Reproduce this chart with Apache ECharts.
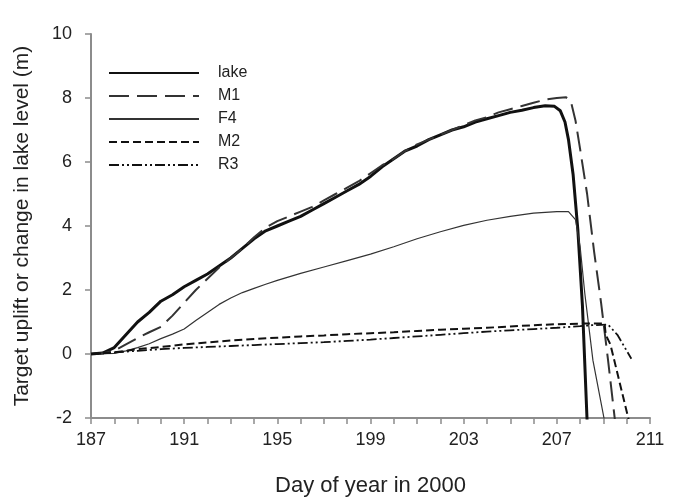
<!DOCTYPE html>
<html>
<head>
<meta charset="utf-8">
<script src="https://cdn.jsdelivr.net/npm/echarts@6/dist/echarts.min.js"></script>
<style>
html, body { margin: 0; padding: 0; background: #fff; }
#main { width: 675px; height: 502px; }
</style>
</head>
<body>
<div id="main"></div>
<script>
// day of year, value (m)
var dayStart = 187
var xTicks = [187, 191, 195, 199, 203, 207, 211]

var lake = [
  [187, 0], [187.5, 0.03], [188, 0.2], [188.5, 0.6], [189, 1.0], [189.5, 1.3], [190, 1.65],
  [190.5, 1.85], [191, 2.1], [191.5, 2.3], [192, 2.5], [192.5, 2.75], [193, 3.0], [193.5, 3.3],
  [194, 3.6], [194.5, 3.85], [195, 4.0], [195.5, 4.15], [196, 4.3], [196.5, 4.5], [197, 4.7],
  [197.5, 4.9], [198, 5.1], [198.5, 5.3], [199, 5.55], [199.5, 5.85], [200, 6.1], [200.5, 6.35],
  [201, 6.5], [201.5, 6.7], [202, 6.85], [202.5, 7.0], [203, 7.1], [203.5, 7.25], [204, 7.35],
  [204.5, 7.45], [205, 7.55], [205.5, 7.62], [206, 7.7], [206.5, 7.76], [206.9, 7.74], [207.15, 7.6],
  [207.35, 7.25], [207.5, 6.7], [207.7, 5.6], [207.9, 3.9], [208.1, 1.5], [208.3, -2.1]
]
var m1 = [
  [187, 0], [187.5, 0.02], [188, 0.1], [188.5, 0.3], [189, 0.5], [189.5, 0.68], [190, 0.85],
  [190.5, 1.2], [191, 1.6], [191.5, 2.0], [192, 2.35], [192.5, 2.7], [193, 3.0], [193.5, 3.3],
  [194, 3.65], [194.5, 3.95], [195, 4.15], [195.5, 4.3], [196, 4.45], [196.5, 4.6], [197, 4.8],
  [197.5, 5.0], [198, 5.2], [198.5, 5.4], [199, 5.65], [199.5, 5.9], [200, 6.1], [200.5, 6.35],
  [201, 6.55], [201.5, 6.7], [202, 6.85], [202.5, 7.0], [203, 7.15], [203.5, 7.3], [204, 7.4],
  [204.5, 7.55], [205, 7.65], [205.5, 7.75], [206, 7.85], [206.5, 7.95], [207, 8.0], [207.4, 8.02],
  [207.6, 7.9], [207.8, 7.3], [208, 6.4], [208.3, 5.0], [208.6, 3.2], [208.9, 1.6], [209.2, -0.2],
  [209.5, -2.1]
]
var f4 = [
  [187, 0], [188, 0.02], [188.5, 0.1], [189, 0.2], [189.5, 0.32], [190, 0.48], [190.5, 0.62],
  [191, 0.78], [191.5, 1.05], [192, 1.3], [192.5, 1.55], [193, 1.75], [193.5, 1.92], [194, 2.05],
  [194.5, 2.18], [195, 2.3], [196, 2.52], [197, 2.72], [198, 2.92], [199, 3.12], [200, 3.35],
  [201, 3.6], [202, 3.82], [203, 4.02], [204, 4.18], [205, 4.3], [206, 4.4], [207, 4.45],
  [207.5, 4.45], [207.8, 4.2], [208, 3.35], [208.2, 1.9], [208.55, -0.2], [209.05, -2.1]
]
var m2 = [
  [187, 0], [188, 0.05], [189, 0.15], [190, 0.22], [191, 0.3], [192, 0.36], [193, 0.42],
  [194, 0.47], [195, 0.51], [196, 0.55], [197, 0.58], [198, 0.62], [199, 0.65], [200, 0.68],
  [201, 0.72], [202, 0.76], [203, 0.79], [204, 0.82], [205, 0.86], [206, 0.9], [207, 0.93],
  [208, 0.95], [208.8, 0.95], [209.05, 0.95], [209.1, 0.6], [209.3, 0.3], [210.1, -2.1]
]
var r3 = [
  [187, 0], [188, 0.05], [189, 0.1], [190, 0.15], [191, 0.19], [192, 0.22], [193, 0.25],
  [194, 0.28], [195, 0.31], [196, 0.34], [197, 0.37], [198, 0.41], [199, 0.45], [200, 0.5],
  [201, 0.55], [202, 0.6], [203, 0.65], [204, 0.7], [205, 0.74], [206, 0.78], [207, 0.82],
  [208, 0.87], [208.5, 0.9], [209.2, 0.92], [209.6, 0.6], [210.2, -0.15]
]

// ticks are counted from min, so shift days to start at 0
function shift(arr) {
  return arr.map(function(p) { return [p[0] - dayStart, p[1]] })
}

var chart = echarts.init(document.getElementById('main'))
var font = 'Liberation Sans, Arial, sans-serif'
var axisGray = '#8c8c8c'

function line(name, data, color, width, dash) {
  return {
    name: name,
    type: 'line',
    data: shift(data),
    symbol: 'none',
    lineStyle: { color: color, width: width, type: dash },
    itemStyle: { color: color }
  }
}

chart.setOption({
  animation: false,
  grid: { left: 91, right: 25, top: 34, bottom: 84 },
  legend: {
    orient: 'vertical',
    left: 103,
    top: 60,
    itemWidth: 90,
    itemHeight: 14,
    itemGap: 7,
    itemStyle: { opacity: 0 },
    textStyle: { fontFamily: font, fontSize: 16, color: '#222', padding: [0, 0, 0, 14] },
    data: ['lake', 'M1', 'F4', 'M2', 'R3']
  },
  xAxis: {
    type: 'value',
    min: 0,
    max: 24,
    interval: 4,
    name: 'Day of year in 2000',
    nameLocation: 'middle',
    nameGap: 57,
    nameTextStyle: { fontFamily: font, fontSize: 22, color: '#222' },
    axisLine: { onZero: false, lineStyle: { color: axisGray, width: 2 } },
    axisTick: { show: true, length: 6, lineStyle: { color: axisGray, width: 1.5 } },
    minorTick: { show: true, splitNumber: 4, length: 6, lineStyle: { color: axisGray, width: 1.5 } },
    splitLine: { show: false },
    axisLabel: {
      fontFamily: font, fontSize: 18, color: '#222', margin: 13,
      formatter: function(v) { return xTicks.indexOf(v + dayStart) >= 0 ? String(v + dayStart) : '' }
    }
  },
  yAxis: {
    type: 'value',
    min: -2,
    max: 10,
    interval: 2,
    name: 'Target uplift or change in lake level (m)',
    nameLocation: 'middle',
    nameGap: 58,
    nameTextStyle: { fontFamily: font, fontSize: 21, color: '#222' },
    axisLine: { show: true, lineStyle: { color: axisGray, width: 2 } },
    axisTick: { show: true, length: 6, lineStyle: { color: axisGray, width: 1.5 } },
    splitLine: { show: false },
    axisLabel: { fontFamily: font, fontSize: 18, color: '#222', margin: 19 }
  },
  series: [
    line('lake', lake, '#111', 3, 'solid'),
    line('M1', m1, '#333', 2, [20, 8]),
    line('F4', f4, '#333', 1.2, 'solid'),
    line('M2', m2, '#111', 2, [8, 4]),
    line('R3', r3, '#111', 1.8, [10, 3, 2, 3, 2, 3])
  ]
})
</script>
</body>
</html>
